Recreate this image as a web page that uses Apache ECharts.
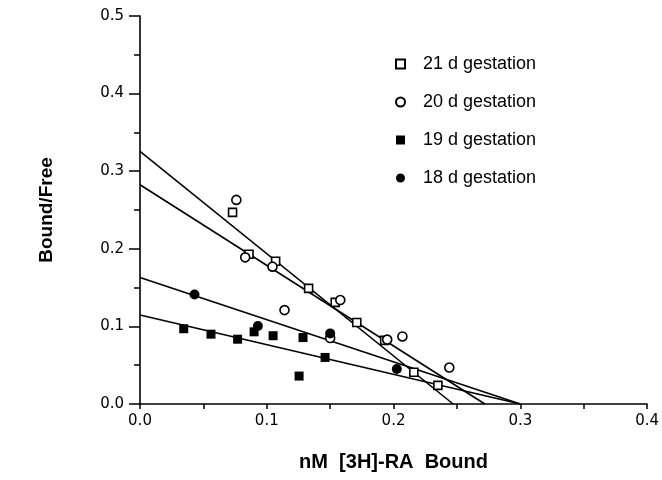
<!DOCTYPE html>
<html>
<head>
<meta charset="utf-8">
<script src="https://cdn.jsdelivr.net/npm/echarts@6/dist/echarts.min.js"></script>
<style>html,body{margin:0;padding:0;background:#fff;}#c{width:662px;height:480px;}</style>
</head>
<body>
<div id="c"></div>
<script>
// Series names
const seriesNames = ['21 d gestation', '20 d gestation', '19 d gestation', '18 d gestation'];

// Data points (x: nM [3H]-RA Bound, y: Bound/Free)
const d21x = [0.073, 0.086, 0.107, 0.133, 0.154, 0.171, 0.193, 0.216, 0.235];
const d21y = [0.247, 0.193, 0.184, 0.149, 0.131, 0.105, 0.082, 0.041, 0.024];

const d20x = [0.076, 0.083, 0.1045, 0.114, 0.158, 0.150, 0.195, 0.207, 0.244];
const d20y = [0.263, 0.189, 0.177, 0.121, 0.134, 0.085, 0.083, 0.087, 0.047];

const d19x = [0.0345, 0.056, 0.077, 0.090, 0.105, 0.1286, 0.1255, 0.146];
const d19y = [0.097, 0.090, 0.0835, 0.093, 0.088, 0.0856, 0.036, 0.060];

const d18x = [0.043, 0.093, 0.150, 0.2026];
const d18y = [0.141, 0.1006, 0.091, 0.045];

// Fitted regression lines: y-intercept and x-intercept
const fitIntercepts = [0.3256, 0.2826, 0.1148, 0.163];
const fitXIntercepts = [0.247, 0.272, 0.300, 0.300];

// Axis ticks
const xTicks = [0.0, 0.1, 0.2, 0.3, 0.4];
const yTicks = [0.0, 0.1, 0.2, 0.3, 0.4, 0.5];

function zip(xs, ys) { return xs.map((x, i) => [x, ys[i]]); }

const chart = echarts.init(document.getElementById('c'), null, {renderer: 'canvas'});

const lineSeries = fitIntercepts.map((b, i) => ({
  type: 'line',
  data: [[0, b], [fitXIntercepts[i], 0]],
  symbol: 'none',
  lineStyle: {color: '#000', width: 1.6},
  silent: true,
  z: 1
}));

const scatterStyles = [
  {symbol: 'rect', size: 8, itemStyle: {color: '#fff', borderColor: '#000', borderWidth: 1.6, opacity: 1}},
  {symbol: 'circle', size: 9, itemStyle: {color: '#fff', borderColor: '#000', borderWidth: 1.6, opacity: 1}},
  {symbol: 'rect', size: 9, itemStyle: {color: '#000', borderColor: '#000', borderWidth: 0, opacity: 1}},
  {symbol: 'circle', size: 10, itemStyle: {color: '#000', borderColor: '#000', borderWidth: 0, opacity: 1}}
];
const allData = [zip(d21x, d21y), zip(d20x, d20y), zip(d19x, d19y), zip(d18x, d18y)];

const scatterSeries = allData.map((d, i) => ({
  type: 'scatter',
  name: seriesNames[i],
  data: d,
  symbol: scatterStyles[i].symbol,
  symbolSize: scatterStyles[i].size,
  itemStyle: scatterStyles[i].itemStyle,
  z: 3
}));

const fontTick = 'DejaVu Sans';

chart.setOption({
  animation: false,
  backgroundColor: '#fff',
  grid: {left: 140, right: 12, top: 16, bottom: 76},
  legend: {
    orient: 'vertical',
    left: 390,
    top: 50,
    itemWidth: 9,
    itemHeight: 9,
    itemGap: 20,
    data: seriesNames,
    textStyle: {fontFamily: 'Liberation Sans', fontSize: 18, color: '#000', padding: [0, 0, 0, 13]}
  },
  xAxis: {
    type: 'value',
    min: xTicks[0],
    max: xTicks[xTicks.length - 1],
    interval: 0.1,
    name: 'nM  [3H]-RA  Bound',
    nameLocation: 'middle',
    nameGap: 48,
    nameTextStyle: {fontFamily: 'Liberation Sans', fontWeight: 'bold', fontSize: 20, color: '#000'},
    axisLine: {show: true, lineStyle: {color: '#000', width: 1.6}},
    axisTick: {show: true, length: 5, lineStyle: {color: '#000', width: 1.5}},
    minorTick: {show: true, splitNumber: 2, length: 5, lineStyle: {color: '#000', width: 1.5}},
    splitLine: {show: false},
    axisLabel: {
      fontFamily: fontTick, fontSize: 15, color: '#000', margin: 10,
      formatter: v => v.toFixed(1)
    }
  },
  yAxis: {
    type: 'value',
    min: yTicks[0],
    max: yTicks[yTicks.length - 1],
    interval: 0.1,
    name: 'Bound/Free',
    nameLocation: 'middle',
    nameGap: 84,
    nameRotate: 90,
    nameTextStyle: {fontFamily: 'Liberation Sans', fontWeight: 'bold', fontSize: 19, color: '#000'},
    axisLine: {show: true, lineStyle: {color: '#000', width: 1.6}},
    axisTick: {show: true, length: 11, lineStyle: {color: '#000', width: 1.5}},
    minorTick: {show: true, splitNumber: 2, length: 6, lineStyle: {color: '#000', width: 1.5}},
    splitLine: {show: false},
    axisLabel: {
      fontFamily: fontTick, fontSize: 15, color: '#000', margin: 16,
      formatter: v => v.toFixed(1)
    }
  },
  series: lineSeries.concat(scatterSeries)
});
</script>
</body>
</html>
